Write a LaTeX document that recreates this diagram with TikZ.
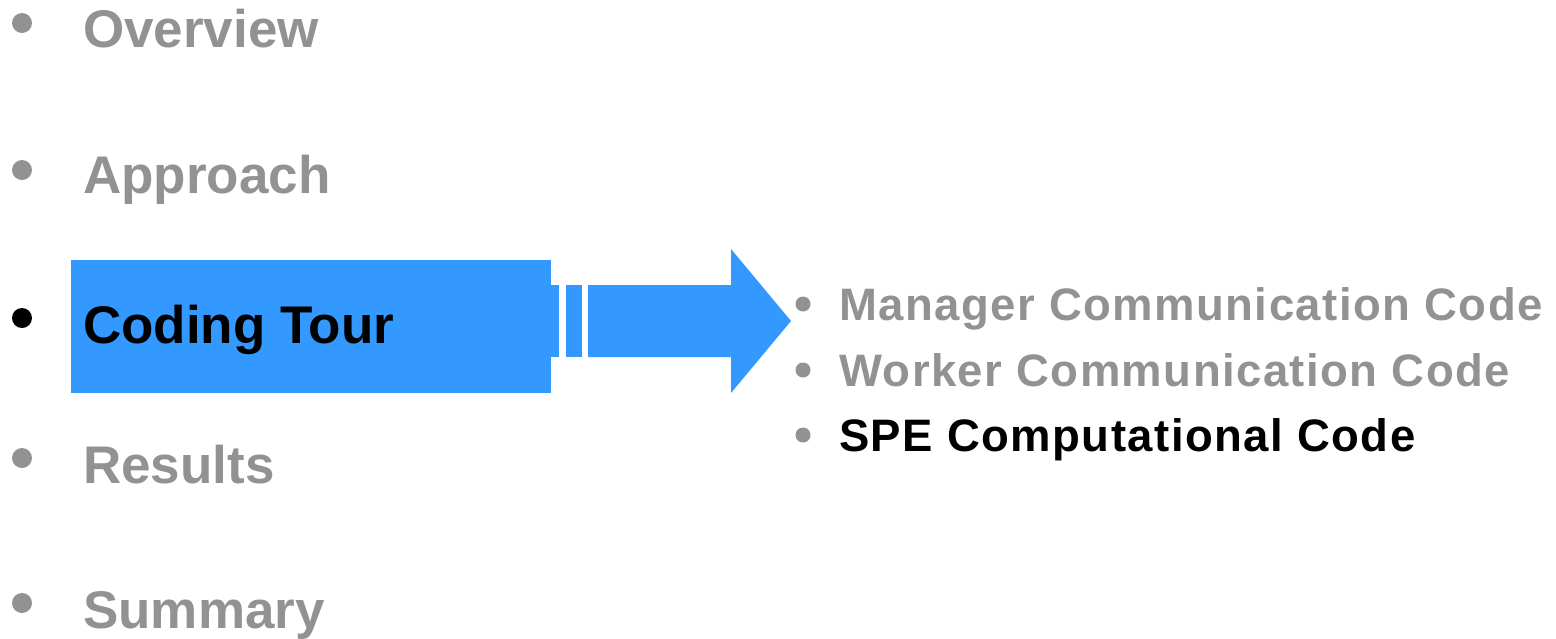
\documentclass[tikz,border=0pt]{standalone}
\usepackage{fontspec}
\setmainfont{Liberation Sans}
\newfontfamily\subfont[LetterSpace=3.2]{Liberation Sans}
\definecolor{txtgray}{RGB}{146,146,146}
\definecolor{arrblue}{RGB}{51,153,255}
\begin{document}
\begin{tikzpicture}[x=1pt,y=-1pt,
  mainitem/.style={anchor=base west,inner sep=0pt,font=\fontsize{53}{60}\selectfont\bfseries,text=txtgray},
  subitem/.style={anchor=base west,inner sep=0pt,font=\subfont\fontsize{45.5}{50}\selectfont\bfseries,text=txtgray},
  bigdot/.style={circle,fill=txtgray,inner sep=0pt,minimum size=20pt},
  smalldot/.style={circle,fill=txtgray,inner sep=0pt,minimum size=15pt}]
\useasboundingbox (0,0) rectangle (1556,638);
% blue box and arrow
\fill[arrblue] (71,260) rectangle (551,393);
\fill[arrblue] (551,285) rectangle (559,357);
\fill[arrblue] (566,285) rectangle (582,357);
\fill[arrblue] (588,285) -- (731,285) -- (731,249) -- (791,321) -- (731,393) -- (731,357) -- (588,357) -- cycle;
% main bullets
\node[bigdot] (d1) at (22,23) {};
\node[bigdot] (d2) at (22,170) {};
\node[bigdot,fill=black] (d3) at (22,318) {};
\node[bigdot] (d4) at (22,458) {};
\node[bigdot] (d5) at (22,603) {};
\node[mainitem] (t1) at (83,47) {Overview};
\node[mainitem] (t2) at (83,193) {Approach};
\node[mainitem,text=black] (t3) at (83,343) {Coding Tour};
\node[mainitem] (t4) at (83,483) {Results};
\node[mainitem] (t5) at (83,628) {Summary};
% sub bullets
\node[smalldot] (s1) at (803,304) {};
\node[smalldot] (s2) at (803,370) {};
\node[smalldot] (s3) at (803,435) {};
\node[subitem] (u1) at (839,320) {Manager Communication Code};
\node[subitem] (u2) at (839,386) {Worker Communication Code};
\node[subitem,text=black] (u3) at (839,451) {SPE Computational Code};
\end{tikzpicture}
\end{document}
